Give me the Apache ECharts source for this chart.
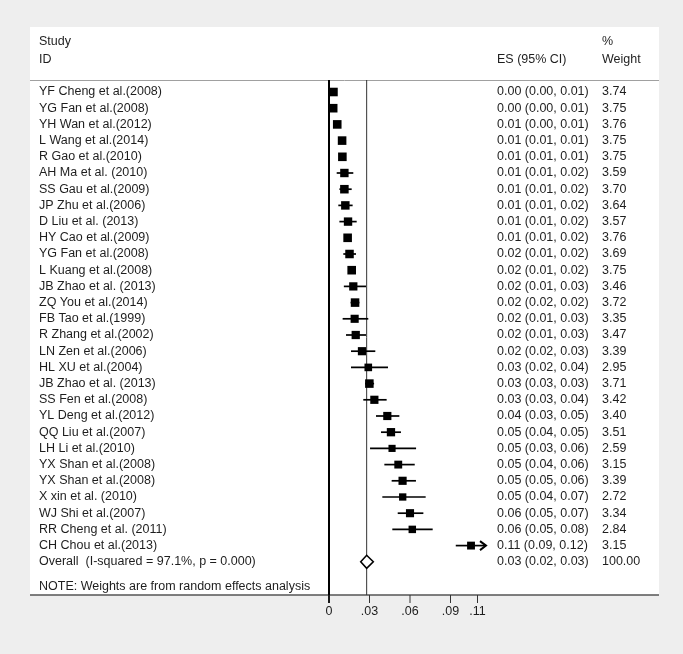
<!DOCTYPE html>
<html>
<head>
<meta charset="utf-8">
<script src="https://cdn.jsdelivr.net/npm/echarts@6/dist/echarts.min.js"></script>
<style>
html,body{margin:0;padding:0;background:#eeeeee;}
#chart{width:683px;height:654px;}
</style>
</head>
<body>
<div id="chart"></div>
<script>
const studies = ["YF Cheng et al.(2008)","YG Fan et al.(2008)","YH Wan et al.(2012)","L Wang et al.(2014)","R Gao et al.(2010)","AH Ma et al. (2010)","SS Gau et al.(2009)","JP Zhu et al.(2006)","D Liu et al. (2013)","HY Cao et al.(2009)","YG Fan et al.(2008)","L Kuang et al.(2008)","JB Zhao et al. (2013)","ZQ You et al.(2014)","FB Tao et al.(1999)","R Zhang et al.(2002)","LN Zen et al.(2006)","HL XU et al.(2004)","JB Zhao et al. (2013)","SS Fen et al.(2008)","YL Deng et al.(2012)","QQ Liu et al.(2007)","LH Li et al.(2010)","YX Shan et al.(2008)","YX Shan et al.(2008)","X xin et al. (2010)","WJ Shi et al.(2007)","RR Cheng et al. (2011)","CH Chou et al.(2013)"];
const es = [0.0033,0.0031,0.0061,0.0097,0.0099,0.0114,0.0114,0.0121,0.0141,0.0138,0.0152,0.0168,0.0180,0.0193,0.0190,0.0198,0.0244,0.0291,0.0299,0.0336,0.0432,0.0459,0.0467,0.0513,0.0545,0.0546,0.0600,0.0617,0.1052];
const lo = [0.0010,0.0010,0.0045,0.0085,0.0086,0.0057,0.0077,0.0069,0.0077,0.0115,0.0106,0.0148,0.0110,0.0160,0.0101,0.0126,0.0163,0.0163,0.0267,0.0254,0.0348,0.0385,0.0304,0.0410,0.0464,0.0395,0.0509,0.0469,0.0939];
const hi = [0.0055,0.0055,0.0078,0.0110,0.0112,0.0180,0.0168,0.0175,0.0205,0.0160,0.0200,0.0188,0.0274,0.0225,0.0291,0.0274,0.0343,0.0437,0.0334,0.0427,0.0521,0.0533,0.0645,0.0635,0.0644,0.0716,0.0699,0.0768,0.1200];
const weights = [3.74,3.75,3.76,3.75,3.75,3.59,3.70,3.64,3.57,3.76,3.69,3.75,3.46,3.72,3.35,3.47,3.39,2.95,3.71,3.42,3.40,3.51,2.59,3.15,3.39,2.72,3.34,2.84,3.15];
const esLabels = ["0.00 (0.00, 0.01)","0.00 (0.00, 0.01)","0.01 (0.00, 0.01)","0.01 (0.01, 0.01)","0.01 (0.01, 0.01)","0.01 (0.01, 0.02)","0.01 (0.01, 0.02)","0.01 (0.01, 0.02)","0.01 (0.01, 0.02)","0.01 (0.01, 0.02)","0.02 (0.01, 0.02)","0.02 (0.01, 0.02)","0.02 (0.01, 0.03)","0.02 (0.02, 0.02)","0.02 (0.01, 0.03)","0.02 (0.01, 0.03)","0.02 (0.02, 0.03)","0.03 (0.02, 0.04)","0.03 (0.03, 0.03)","0.03 (0.03, 0.04)","0.04 (0.03, 0.05)","0.05 (0.04, 0.05)","0.05 (0.03, 0.06)","0.05 (0.04, 0.06)","0.05 (0.05, 0.06)","0.05 (0.04, 0.07)","0.06 (0.05, 0.07)","0.06 (0.05, 0.08)","0.11 (0.09, 0.12)"];
const weightLabels = ["3.74","3.75","3.76","3.75","3.75","3.59","3.70","3.64","3.57","3.76","3.69","3.75","3.46","3.72","3.35","3.47","3.39","2.95","3.71","3.42","3.40","3.51","2.59","3.15","3.39","2.72","3.34","2.84","3.15"];

const overallName = "Overall  (I-squared = 97.1%, p = 0.000)";
const overallEs = 0.0279;
const overallLo = 0.0235;
const overallHi = 0.0328;
const overallEsLabel = "0.03 (0.02, 0.03)";
const overallWeightLabel = "100.00";
const noteText = "NOTE: Weights are from random effects analysis";

const tickValues = [0, 0.03, 0.06, 0.09, 0.11];
const tickLabels = ["0", ".03", ".06", ".09", ".11"];

const xMin = 0, xMax = 0.12, clipMax = 0.1163;
const yMin = -0.741, yMax = 31.05;
const overallRow = studies.length;
const noteRow = studies.length + 1.5;

const FONT = '12.5px "Liberation Sans", Arial, sans-serif';
const TXT = '#1e1e1e';
const nameX = 39, esX = 497, wtX = 602;

const chart = echarts.init(document.getElementById('chart'), null, {renderer: 'canvas'});

function txt(text, x, y, align) {
  return {type: 'text', silent: true, style: {text: text, x: x, y: y, font: FONT, fill: TXT, align: align || 'left', verticalAlign: 'middle'}};
}

const option = {
  backgroundColor: '#eeeeee',
  animation: false,
  grid: {left: 329, top: 80, width: 162, height: 515},
  xAxis: {type: 'value', min: xMin, max: xMax, show: false},
  yAxis: {type: 'value', min: yMin, max: yMax, inverse: true, show: false},
  graphic: [
    {type: 'rect', z: 0, silent: true, shape: {x: 30, y: 27, width: 629, height: 568}, style: {fill: '#ffffff'}},
    {type: 'line', z: 1, silent: true, shape: {x1: 30, y1: 80.5, x2: 659, y2: 80.5}, style: {stroke: '#a0a0a0', lineWidth: 1}},
    {type: 'line', z: 1, silent: true, shape: {x1: 30, y1: 595, x2: 659, y2: 595}, style: {stroke: '#555555', lineWidth: 1.5}},
    {type: 'text', z: 1, silent: true, style: {text: 'Study', x: nameX, y: 42, font: FONT, fill: TXT, verticalAlign: 'middle'}},
    {type: 'text', z: 1, silent: true, style: {text: 'ID', x: nameX, y: 60, font: FONT, fill: TXT, verticalAlign: 'middle'}},
    {type: 'text', z: 1, silent: true, style: {text: 'ES (95% CI)', x: esX, y: 60, font: FONT, fill: TXT, verticalAlign: 'middle'}},
    {type: 'text', z: 1, silent: true, style: {text: '%', x: wtX, y: 42, font: FONT, fill: TXT, verticalAlign: 'middle'}},
    {type: 'text', z: 1, silent: true, style: {text: 'Weight', x: wtX, y: 60, font: FONT, fill: TXT, verticalAlign: 'middle'}}
  ],
  series: [
    {
      type: 'custom', clip: false, z: 3,
      data: [[0, 0]],
      renderItem: function (params, api) {
        const top = api.coord([xMin, yMin])[1];
        const bottom = api.coord([xMin, yMax])[1];
        const x0 = api.coord([0, 0])[0];
        const xo = api.coord([overallEs, 0])[0];
        const children = [
          {type: 'line', shape: {x1: xo, y1: top, x2: xo, y2: bottom}, style: {stroke: '#333333', lineWidth: 1}},
          {type: 'line', shape: {x1: x0, y1: top, x2: x0, y2: bottom + 8}, style: {stroke: '#000000', lineWidth: 2}}
        ];
        tickValues.forEach(function (v, k) {
          const x = api.coord([v, 0])[0];
          children.push({type: 'line', shape: {x1: x, y1: bottom, x2: x, y2: bottom + 8}, style: {stroke: '#333333', lineWidth: 1}});
          children.push(txt(tickLabels[k], x, bottom + 17, 'center'));
        });
        return {type: 'group', children: children};
      }
    },
    {
      type: 'custom', clip: false, z: 4,
      data: studies.map(function (s, i) { return [es[i], i]; }),
      renderItem: function (params, api) {
        const i = api.value(1);
        const y = api.coord([0, i])[1];
        const xe = api.coord([es[i], i])[0];
        const xl = api.coord([lo[i], i])[0];
        const capped = hi[i] > clipMax;
        const xh = api.coord([capped ? clipMax : hi[i], i])[0];
        const s = 8.6 * Math.sqrt(weights[i] / 3.76);
        const children = [
          txt(studies[i], nameX, y),
          {type: 'line', shape: {x1: xl, y1: y, x2: xh, y2: y}, style: {stroke: '#000000', lineWidth: 1.7}},
          {type: 'rect', shape: {x: xe - s / 2, y: y - s / 2, width: s, height: s}, style: {fill: '#000000'}},
          txt(esLabels[i], esX, y),
          txt(weightLabels[i], wtX, y)
        ];
        if (capped) {
          children.push({type: 'polyline', shape: {points: [[xh - 6, y - 4.5], [xh, y], [xh - 6, y + 4.5]]}, style: {stroke: '#000000', lineWidth: 2, fill: null}});
        }
        return {type: 'group', children: children};
      }
    },
    {
      type: 'custom', clip: false, z: 4,
      data: [[overallEs, overallRow]],
      renderItem: function (params, api) {
        const r = api.value(1);
        const y = api.coord([0, r])[1];
        const yn = api.coord([0, noteRow])[1];
        const xe = api.coord([overallEs, r])[0];
        const xl = api.coord([overallLo, r])[0];
        const xh = api.coord([overallHi, r])[0];
        return {type: 'group', children: [
          txt(overallName, nameX, y),
          {type: 'polygon', shape: {points: [[xl, y], [xe, y - 6.5], [xh, y], [xe, y + 6.5]]}, style: {fill: '#ffffff', stroke: '#000000', lineWidth: 1.6}},
          txt(overallEsLabel, esX, y),
          txt(overallWeightLabel, wtX, y),
          txt(noteText, nameX, yn)
        ]};
      }
    }
  ]
};
chart.setOption(option);
</script>
</body>
</html>
